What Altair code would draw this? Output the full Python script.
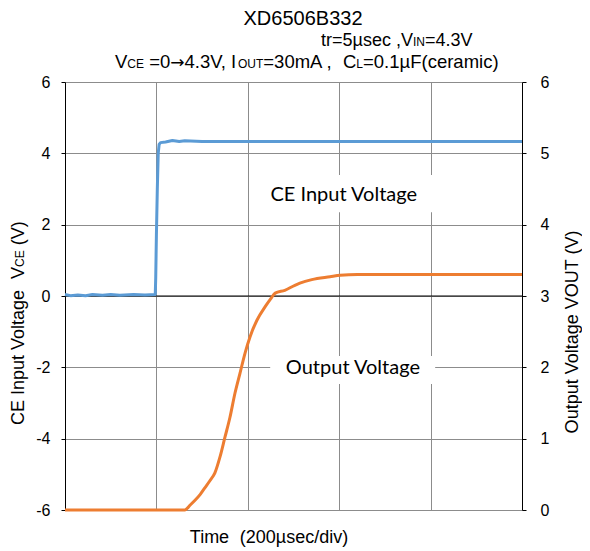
import altair as alt
import pandas as pd

# ---------------- data ----------------
ce_time = [0, 12, 28, 45, 60, 82, 100, 120, 150, 175, 197.5, 198.5, 200, 202, 204, 206, 209,
           220, 235, 250, 262, 300, 1000]
ce_volt = [0.04, 0.01, 0.03, 0.01, 0.04, 0.02, 0.04, 0.02, 0.04, 0.03, 0.04, 0.5, 1.7, 3.0, 4.0, 4.25, 4.30,
           4.32, 4.36, 4.33, 4.35, 4.33, 4.33]

out_time = [0, 262, 274, 285, 296, 306, 317, 328, 339, 350, 361, 372, 383, 394, 405, 420, 438,
            450, 460, 481, 503, 514, 540, 580, 602, 640, 690, 1000]
out_volt = [0, 0, 0.07, 0.14, 0.22, 0.31, 0.41, 0.52, 0.74, 1.02, 1.30, 1.64, 1.92, 2.20, 2.43, 2.66, 2.85,
            2.96, 3.04, 3.08, 3.15, 3.18, 3.23, 3.27, 3.29, 3.30, 3.30, 3.30]

left_ticks = [-6, -4, -2, 0, 2, 4, 6]
right_ticks = [0, 1, 2, 3, 4, 5, 6]
time_grid = [200, 400, 600, 800]

title_main = "XD6506B332"
title_line2 = [("tr=5µsec ,V", 18), ("IN", 12), ("=4.3V", 18)]
title_line3 = [("V", 18.5), ("CE", 12), (" =0", 18.5), ("→", 17), ("4.3V, I", 18.5), ("OUT", 12),
               ("=30mA ,", 18.5), ("  C", 18.5), ("L", 12), ("=0.1µF(ceramic)", 18.5)]
left_title = [("CE Input Voltage", 18), ("  V", 18), ("CE", 12), (" (V)", 18)]
right_title = "Output Voltage  VOUT (V)"
x_title = [("Time", 18), ("  (200µsec/div)", 18)]
label_ce = "CE Input Voltage"
label_out = "Output Voltage"

# ---------------- styling ----------------
FONT = "Liberation Sans"
ARROW_FONT = "DejaVu Sans"
LBL_FONT = "Lato"
GRID = "#8C8C8C"
BLUE = "#5B9BD5"
ORANGE = "#ED7D31"
W, H = 457, 428

AW = {' ': 278, ',': 278, '.': 278, '=': 584, '(': 333, ')': 333, '/': 278, '→': 838,
      'A': 667, 'B': 667, 'C': 722, 'D': 722, 'E': 667, 'F': 611, 'I': 278, 'L': 556, 'N': 722,
      'O': 778, 'T': 611, 'U': 722, 'V': 667, 'X': 667, 'a': 556, 'c': 500, 'd': 556, 'e': 556,
      'g': 556, 'i': 222, 'l': 222, 'm': 833, 'n': 556, 'o': 556, 'p': 556, 'r': 333, 's': 500,
      't': 278, 'u': 556, 'v': 500, 'µ': 576}


def tw(text, size):
    return sum(AW.get(ch, 556) for ch in text) * size / 1000.0


one = alt.Data(values=[{}])

LBL_EXPR = "'' + datum.value"
x_scale = alt.Scale(domain=[0, 1000], nice=False, zero=False)
x_axis = alt.Axis(values=time_grid, grid=True, gridColor=GRID, gridWidth=1, labels=False,
                  ticks=False, domain=False, title=None)
yl_scale = alt.Scale(domain=[-6, 6], nice=False, zero=False)
yl_axis = alt.Axis(values=left_ticks, orient="left", grid=True, gridColor=GRID, gridWidth=1,
                   domainColor="black", domainWidth=1, tickColor="black", tickSize=4,
                   labelPadding=11, labelFont=FONT, labelFontSize=16, labelColor="black",
                   labelExpr=LBL_EXPR, title=None)
yr_scale = alt.Scale(domain=[0, 6], nice=False, zero=False)
yr_axis = alt.Axis(values=right_ticks, orient="right", grid=False, domainColor="black",
                   domainWidth=1, tickColor="black", tickSize=4, labelPadding=14,
                   labelFont=FONT, labelFontSize=16, labelColor="black",
                   labelExpr=LBL_EXPR, title=None)


def X(**kw):
    return alt.X(scale=x_scale, axis=x_axis, **kw)


def YL(**kw):
    return alt.Y(scale=yl_scale, axis=yl_axis, **kw)


ce_df = pd.DataFrame({"t": ce_time, "v": ce_volt})
out_df = pd.DataFrame({"t": out_time, "v": out_volt})

box_ce = alt.Chart(one).mark_rect(color="white").encode(
    x=X(datum=431), x2=alt.X2(datum=812), y=YL(datum=3.39), y2=alt.Y2(datum=2.35))
box_out = alt.Chart(one).mark_rect(color="white").encode(
    x=X(datum=449), x2=alt.X2(datum=810), y=YL(datum=-1.68), y2=alt.Y2(datum=-2.47))
zero_rule = alt.Chart(one).mark_rule(color="black", strokeWidth=1).encode(y=YL(datum=0))
ce_line = alt.Chart(ce_df).mark_line(color=BLUE, strokeWidth=3, strokeJoin="round").encode(
    x=X(field="t", type="quantitative"), y=YL(field="v", type="quantitative"))
txt_ce = alt.Chart(one).mark_text(font=LBL_FONT, fontSize=20, color="black", align="center",
                                  baseline="middle").encode(
    x=X(datum=610), y=YL(datum=2.83), text=alt.value(label_ce))
txt_out = alt.Chart(one).mark_text(font=LBL_FONT, fontSize=20, color="black", align="center",
                                   baseline="middle").encode(
    x=X(datum=630), y=YL(datum=-2.02), text=alt.value(label_out))

left_layer = alt.layer(box_ce, box_out, zero_rule, ce_line, txt_ce, txt_out)

out_line = alt.Chart(out_df).mark_line(color=ORANGE, strokeWidth=3, strokeJoin="round",
                                       interpolate="monotone").encode(
    x=X(field="t", type="quantitative"),
    y=alt.Y("v:Q", scale=yr_scale, axis=yr_axis))

texts = []


def add_text(txt, x, y, size, align="left", angle=0, baseline="alphabetic", font=FONT):
    kw = dict(font=font, fontSize=size, color="black", align=align, baseline=baseline)
    if angle:
        kw["angle"] = angle
    texts.append(alt.Chart(one).mark_text(**kw).encode(
        x=alt.value(x), y=alt.value(y), text=alt.value(txt)))


def run_width(segments):
    return sum(tw(t, s) for t, s in segments)


def run(segments, start, fixed, horizontal=True):
    """Lay out text pieces one after another; spaces are advanced explicitly."""
    pos = start
    for t, s in segments:
        sp = tw(" ", s)
        lead = len(t) - len(t.lstrip(" "))
        trail = len(t) - len(t.rstrip(" "))
        core = t.strip(" ")
        pos += lead * sp * (1 if horizontal else -1)
        font = ARROW_FONT if core == "→" else FONT
        if horizontal:
            add_text(core, pos, fixed, s, font=font)
            pos += tw(core, s) + trail * sp
        else:
            add_text(core, fixed, pos, s, angle=270, font=font)
            pos -= tw(core, s) + trail * sp


# titles (pixel positions relative to plot origin)
add_text(title_main, 238, -57, 20, align="center")
run(title_line2, 256, -36)
run(title_line3, 50, -14)

# axis titles
run(left_title, 343, -41, horizontal=False)
add_text(right_title, 513, 250, 18, align="center", angle=270)
run(x_title, 204 - run_width(x_title) / 2, 461)

chart = alt.layer(left_layer, out_line, *texts).resolve_scale(y="independent").properties(
    width=W, height=H,
    autosize=alt.AutoSizeParams(type="none"),
    padding={"left": 57, "top": 74, "right": 60, "bottom": 38},
).configure_view(stroke=None)

chart.save("out.html", embed_options={"renderer": "svg", "actions": False})
